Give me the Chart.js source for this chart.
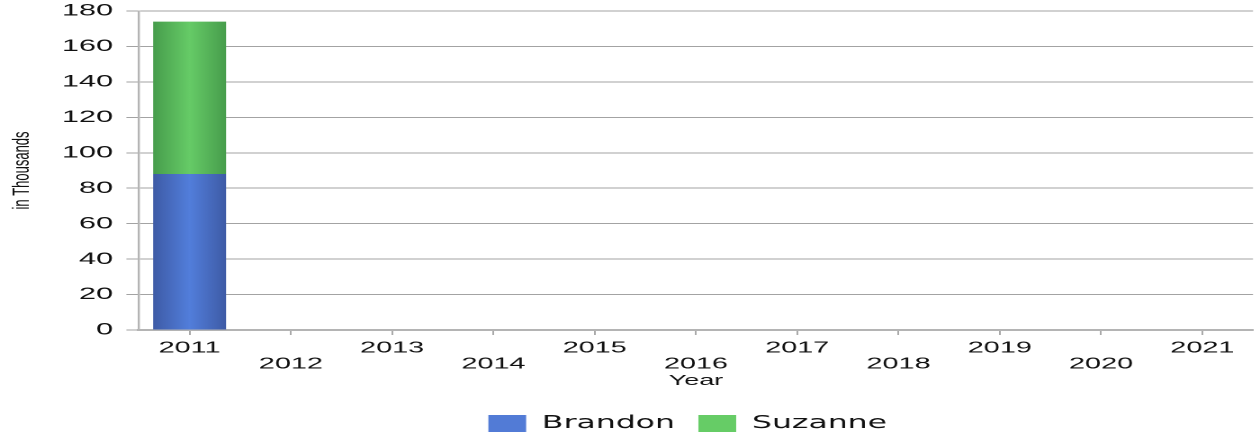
<!DOCTYPE html>
<html>
<head>
<meta charset="utf-8">
<script src="https://cdn.jsdelivr.net/npm/chart.js@4/dist/chart.umd.min.js"></script>
<style>
  html, body { margin: 0; padding: 0; background: #fff; overflow: hidden; }
  /* the reference is drawn wide: render narrower and stretch horizontally */
  #wrap { width: 698.33px; height: 437px; transform: scaleX(1.8); transform-origin: 0 0; }
</style>
</head>
<body>
<div id="wrap"><canvas id="salesChart"></canvas></div>
<script>
const years = ['2011', '2012', '2013', '2014', '2015', '2016', '2017', '2018', '2019', '2020', '2021'];
const brandon = [88, 0, 0, 0, 0, 0, 0, 0, 0, 0, 0];
const suzanne = [86, 0, 0, 0, 0, 0, 0, 0, 0, 0, 0];
const yTicks = [0, 20, 40, 60, 80, 100, 120, 140, 160, 180];
const legendColors = ['#527bd6', '#66cc66'];

const BAR_PCT = 0.72;
const FONT = "'Liberation Sans', Arial, Helvetica, sans-serif";

function barGradient(c, edge, mid) {
    const chart = c.chart;
    const xs = chart.scales && chart.scales.x;
    if (!xs || c.dataIndex === undefined || !xs.width) return mid;
    const cx = xs.getPixelForValue(c.dataIndex);
    const w = (xs.width / years.length) * BAR_PCT;
    const g = chart.ctx.createLinearGradient(cx - w / 2, 0, cx + w / 2, 0);
    g.addColorStop(0, edge);
    g.addColorStop(0.5, mid);
    g.addColorStop(1, edge);
    return g;
}

// legend sits under the plot area centre, not the canvas centre
const legendShift = {
    id: 'legendShift',
    afterLayout(chart) {
        if (chart.legend) chart.legend.left += 68;
    },
};

const ctx = document.getElementById('salesChart').getContext('2d');
new Chart(ctx, {
    type: 'bar',
    data: {
        labels: years,
        datasets: [{
            label: 'Brandon',
            data: brandon,
            backgroundColor: c => barGradient(c, '#3e5ba6', '#527edb'),
            borderWidth: 0,
        }, {
            label: 'Suzanne',
            data: suzanne,
            backgroundColor: c => barGradient(c, '#479d4c', '#66cb67'),
            borderWidth: 0,
        }],
    },
    plugins: [legendShift],
    options: {
        responsive: true,
        maintainAspectRatio: false,
        devicePixelRatio: 2,
        animation: false,
        categoryPercentage: 1,
        barPercentage: BAR_PCT,
        layout: { padding: { top: 11, right: 2.2, left: 0, bottom: -5.25 } },
        plugins: {
            tooltip: { enabled: false },
            legend: {
                position: 'bottom',
                labels: {
                    color: '#111',
                    boxWidth: 21,
                    boxHeight: 17,
                    padding: 13,
                    font: { family: "'DejaVu Sans', sans-serif", size: 17.5 },
                    generateLabels: chart => {
                        const items = Chart.defaults.plugins.legend.labels.generateLabels(chart);
                        items.forEach((it, i) => {
                            it.fillStyle = legendColors[i];
                            it.strokeStyle = legendColors[i];
                            it.lineWidth = 0;
                        });
                        return items;
                    },
                },
            },
        },
        scales: {
            x: {
                stacked: true,
                afterFit: s => { s.height = 71.75; },
                grid: { offset: false, drawOnChartArea: false, drawTicks: true, tickLength: 5, color: '#aaa', lineWidth: 1 },
                border: { display: true, color: '#b4b4b4', width: 2 },
                ticks: {
                    autoSkip: false,
                    maxRotation: 0,
                    padding: 5,
                    color: '#111',
                    font: { family: FONT, size: 16, lineHeight: '16px' },
                    callback: (v, i) => i % 2 ? ['', years[i]] : years[i],
                },
                title: {
                    display: true,
                    text: 'Year',
                    color: '#111',
                    font: { family: FONT, size: 15, lineHeight: 1.2 },
                    padding: { top: 0, bottom: 11.75 },
                },
            },
            y: {
                stacked: true,
                min: yTicks[0],
                max: yTicks[yTicks.length - 1],
                afterFit: s => { s.width = 77.2; s.paddingTop = 0; s.paddingBottom = 0; },
                afterBuildTicks: s => { s.ticks = yTicks.map(v => ({ value: v })); },
                grid: { color: '#a3a3a3', lineWidth: 1, tickLength: 7, drawTicks: true },
                border: { display: true, color: '#b4b4b4', width: 1.2 },
                ticks: {
                    padding: 7.4,
                    color: '#111',
                    font: { family: FONT, size: 17 },
                },
                title: {
                    display: true,
                    text: 'in Thousands',
                    color: '#111',
                    font: { family: FONT, size: 13, lineHeight: 1.2 },
                    padding: { top: 4.4, bottom: 4 },
                },
            },
        },
    },
});
</script>
</body>
</html>
